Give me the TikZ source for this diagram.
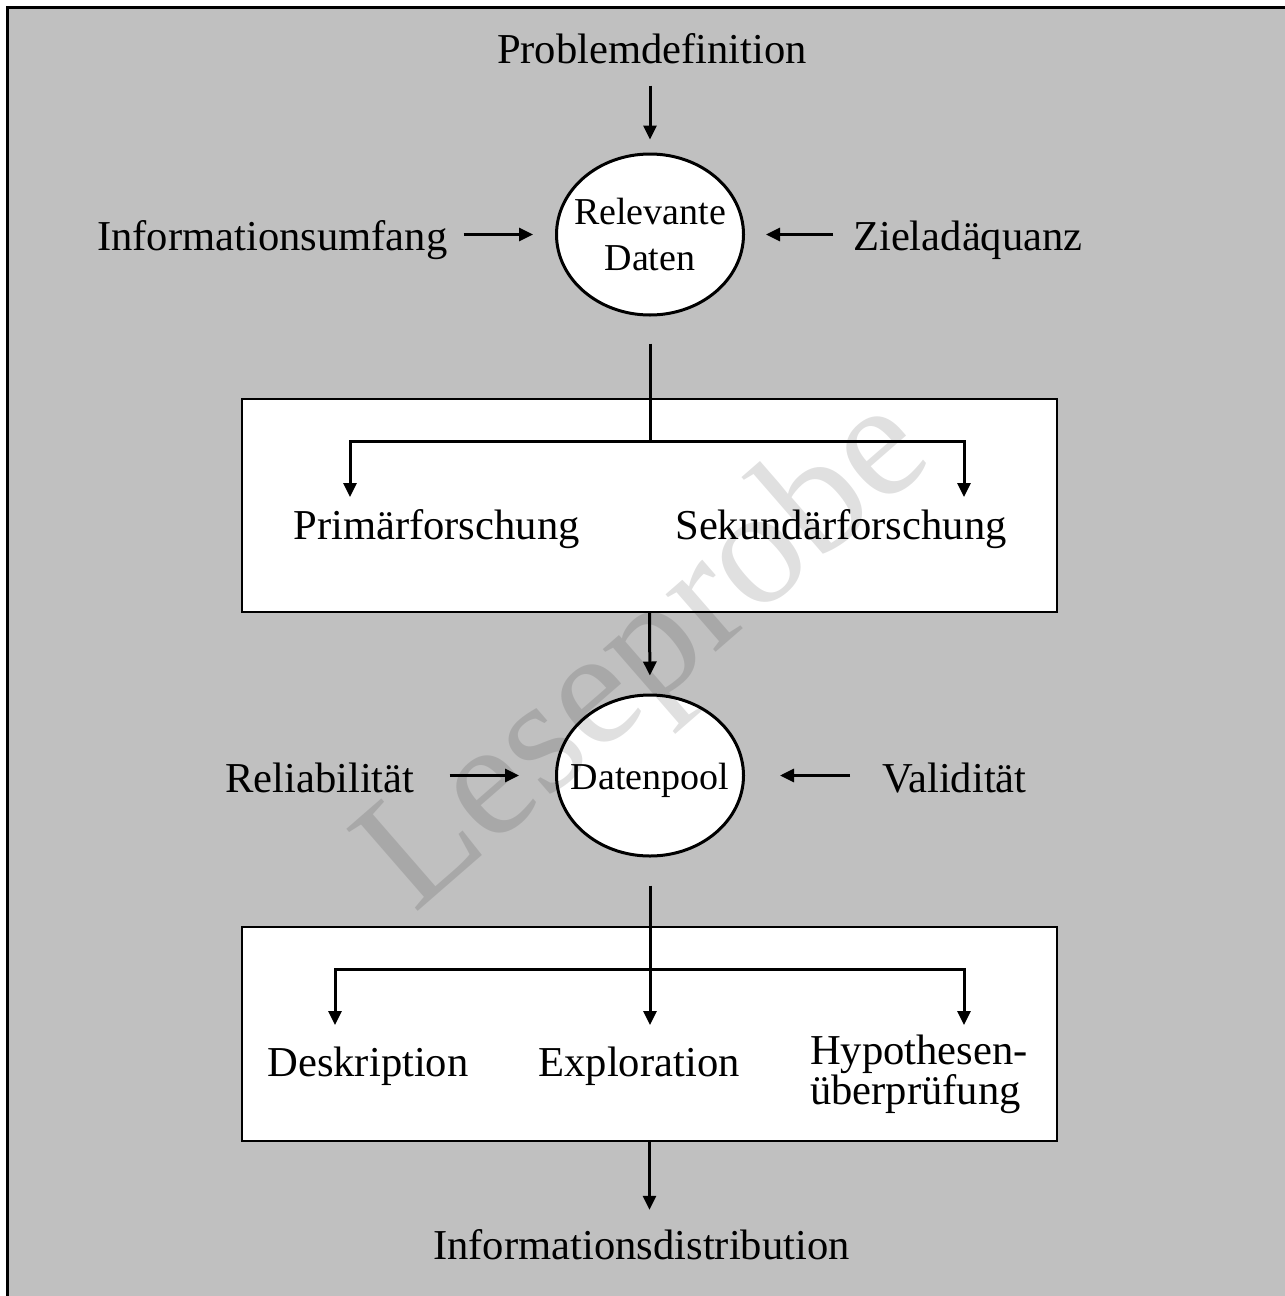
\documentclass[tikz,border=0pt]{standalone}
\usepackage{fontspec}
\setmainfont{Liberation Serif}
\usetikzlibrary{shapes.geometric,arrows.meta}
\definecolor{bggray}{RGB}{192,192,192}
\begin{document}
\begin{tikzpicture}[x=1pt,y=-1pt,
  lbl/.style={inner sep=0pt, font=\fontsize{42.6}{46}\selectfont},
  circ/.style={ellipse, draw, line width=3pt, fill=white, minimum width=187pt, minimum height=161pt, inner sep=0pt},
  intext/.style={inner sep=0pt, align=center, font=\fontsize{38}{46}\selectfont},
  panel/.style={rectangle, draw, line width=2pt, fill=white, minimum width=815pt, minimum height=213pt, inner sep=0pt},
  conn/.style={line width=3pt},
  arr/.style={line width=3pt, -{Triangle[length=14pt,width=13pt]}},
]
\useasboundingbox (0,0) rectangle (1285,1296);
\fill[bggray] (7,7) rectangle (1285,1296);
\draw[line width=3pt] (7,1296) -- (7,7) -- (1285,7);

\node[lbl, anchor=base] (pd) at (652,63) {Problemdefinition};
\node[circ, label={[intext]center:Relevante\\Daten}] (rd) at (650,234.5) {};
\node[lbl, anchor=base west] (iu) at (97,250) {Informationsumfang};
\node[lbl, anchor=base west] (za) at (853,250) {Zieladäquanz};
\node[panel] (box1) at (649.5,505.5) {};
\node[lbl, anchor=base] (pf) at (436.5,539) {Primärforschung};
\node[lbl, anchor=base] (sf) at (841,539) {Sekundärforschung};
\node[circ, label={[intext, yshift=-5pt]center:Datenpool}] (dp) at (650,775.5) {};
\node[lbl, anchor=base west] (rel) at (225,792) {Reliabilität};
\node[lbl, anchor=base west] (val) at (882,792) {Validität};
\node[panel, minimum height=214pt] (box2) at (649.5,1034) {};
\node[lbl, anchor=base] (desk) at (368,1076) {Deskription};
\node[lbl, anchor=base] (expl) at (639,1076) {Exploration};
\node[lbl, align=left, font=\fontsize{42.6}{35}\selectfont, anchor=center] (hyp) at (919,1074) {Hypothesen-\\überprüfung};
\node[lbl, anchor=base] (idist) at (641.5,1259) {Informationsdistribution};

\coordinate (j1) at (650,441);
\coordinate (t1l) at (350,497);
\coordinate (t1r) at (964,497);
\coordinate (j2) at (650,969);
\coordinate (t2l) at (335,1025);
\coordinate (t2m) at (650,1025);
\coordinate (t2r) at (964,1025);

\draw[arr, shorten <=22pt, shorten >=13pt] (rd.north |- pd.south) -- (rd.north);
\draw[arr, shorten <=16pt, shorten >=22pt] (iu.east |- rd.west) -- (rd.west);
\draw[arr, shorten <=20pt, shorten >=21pt] (za.west |- rd.east) -- (rd.east);
\draw[conn, shorten <=27pt] (rd.south) -- (j1);
\draw[arr] (j1) -| (t1l);
\draw[arr] (j1) -| (t1r);
\draw[arr, shorten >=18pt] (box1.south) -- (dp.north);
\draw[arr, shorten <=35pt, shorten >=36pt] (rel.east |- dp.west) -- (dp.west);
\draw[arr, shorten <=32pt, shorten >=35pt] (val.west |- dp.east) -- (dp.east);
\draw[conn, shorten <=28pt] (dp.south) -- (j2);
\draw[arr] (j2) -- (t2m);
\draw[arr] (j2) -| (t2l);
\draw[arr] (j2) -| (t2r);
\draw[arr, shorten >=19pt] (box2.south) -- (box2.south |- idist.north);

\node[rotate=41, inner sep=0pt, font=\fontsize{166}{166}\selectfont, text=black, opacity=0.12] (wm) at (649,658) {Leseprobe};
\end{tikzpicture}
\end{document}
